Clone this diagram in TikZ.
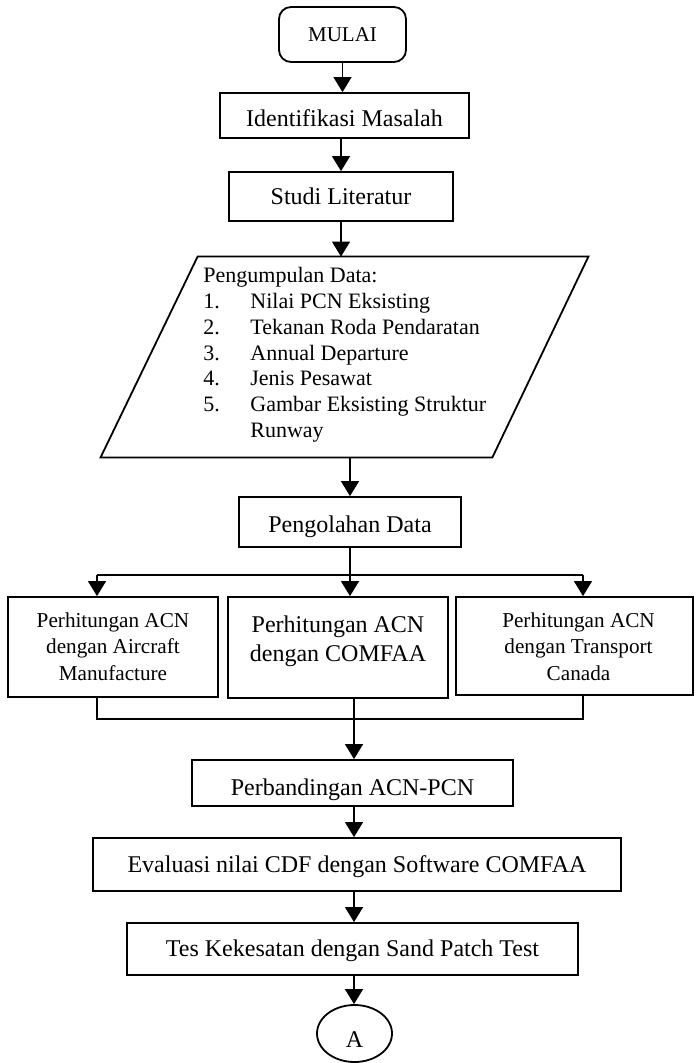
\documentclass[tikz,border=0pt]{standalone}
\usepackage{fontspec}
\setmainfont{Liberation Serif}
\usetikzlibrary{arrows.meta,shapes.geometric,calc}

\begin{document}
\begin{tikzpicture}[x=0.5pt,y=-0.5pt,
  box/.style={draw, line width=0.9pt, inner sep=0pt, text depth=0pt,
              font=\fontsize{12}{14.4}\selectfont},
  panel/.style={draw, line width=0.9pt, inner sep=0pt},
  conn/.style={line width=0.6pt},
  arr/.style={conn, -{Triangle[width=9pt,length=7.5pt]}}]

% page frame
\useasboundingbox (0,0) rectangle (697,1063);
\fill[white] (0,0) rectangle (697,1063);

% start terminal
\node[box, rounded corners=6pt, minimum width=63.5pt, minimum height=27.5pt,
      text height=7.2pt, font=\fontsize{10.5}{12.6}\selectfont]
      (start) at (342.5,34.5) {MULAI};

\node[box, minimum width=124.5pt, minimum height=22.5pt, text height=11.5pt]
      (ident) at (344.5,115.5) {Identifikasi Masalah};

\node[box, minimum width=112pt, minimum height=24.5pt, text height=8.5pt]
      (studi) at (341,196.5) {Studi Literatur};

% data collection (input parallelogram)
\node[inner sep=0pt, minimum width=243.5pt, minimum height=100pt]
      (data) at (344.5,357) {};
\draw[line width=0.9pt] (data.south west) -- ([xshift=48.5pt]data.north west)
      -- (data.north east) -- ([xshift=-48pt]data.south east) -- cycle;
\node[anchor=base west, inner sep=0pt] (datalist) at (203,283)
  {\fontsize{11}{12.85}\selectfont
   \begin{tabular}[t]{@{}p{23.5pt}@{}l@{}}
   \multicolumn{2}{@{}l@{}}{Pengumpulan Data:}\\
   1. & Nilai PCN Eksisting\\
   2. & Tekanan Roda Pendaratan\\
   3. & Annual Departure\\
   4. & Jenis Pesawat\\
   5. & Gambar Eksisting Struktur\\
      & Runway
   \end{tabular}};

\node[box, minimum width=111pt, minimum height=25pt, text height=10pt]
      (proc) at (350,522) {Pengolahan Data};

% three ACN calculations
\node[panel] (acnA) at (113,647)
  {\parbox[c][50pt][t]{105pt}{\centering\fontsize{10.6}{13.25}\selectfont
   \rule{0pt}{15pt}Perhitungan ACN\\dengan Aircraft\\Manufacture}};
\node[panel] (acnB) at (338,647.5)
  {\parbox[c][50.5pt][t]{110pt}{\centering\fontsize{12}{14.5}\selectfont
   \rule{0pt}{17.5pt}Perhitungan ACN\\dengan COMFAA}};
\node[panel] (acnC) at (574.5,646)
  {\parbox[c][49pt][t]{118.5pt}{\centering\fontsize{10.6}{13.25}\selectfont
   \rule{0pt}{15pt}\hspace*{4pt}Perhitungan ACN\\\hspace*{4pt}dengan Transport\\\hspace*{4pt}Canada}};

\node[box, minimum width=160.5pt, minimum height=23pt, text height=12pt]
      (banding) at (352.5,783) {Perbandingan ACN-PCN};

\node[box, minimum width=264pt, minimum height=26.5pt, text height=7.5pt]
      (eval) at (357,864.5) {Evaluasi nilai CDF dengan Software COMFAA};

\node[box, minimum width=225.5pt, minimum height=26pt, text height=7pt]
      (tes) at (352.5,949) {Tes Kekesatan dengan Sand Patch Test};

% off-page connector
\node[box, ellipse, minimum width=37.5pt, minimum height=28.5pt, text height=13.5pt]
      (conA) at (354.5,1033.5) {A};

% branch and merge points
\coordinate (split) at (350,575);
\coordinate (jl) at (97,575);
\coordinate (jr) at (583,575);
\coordinate (ml) at (97,719);
\coordinate (mm) at (354,719);
\coordinate (mr) at (583,719);

% main flow
\draw[arr] (start.south) -- (start.south |- ident.north);
\draw[arr] (studi.north |- ident.south) -- (studi.north);
\draw[arr] (studi.south) -- (studi.south |- data.north);
\draw[arr] (proc.north |- data.south) -- (proc.north);

% fan out
\draw[conn] (proc.south) -- (split);
\draw[conn] (jl) -- (jr);
\draw[arr] (jl) -- (jl |- acnA.north);
\draw[arr] (split) -- (split |- acnB.north);
\draw[arr] (jr) -- (jr |- acnC.north);

% fan in
\draw[conn] (ml |- acnA.south) -- (ml) -- (mr) -- (mr |- acnC.south);
\draw[arr] (mm |- acnB.south) -- (mm |- banding.north);

\draw[arr] (mm |- banding.south) -- (mm |- eval.north);
\draw[arr] (mm |- eval.south) -- (mm |- tes.north);
\draw[arr] (mm |- tes.south) -- (mm |- conA.north);

\end{tikzpicture}
\end{document}
